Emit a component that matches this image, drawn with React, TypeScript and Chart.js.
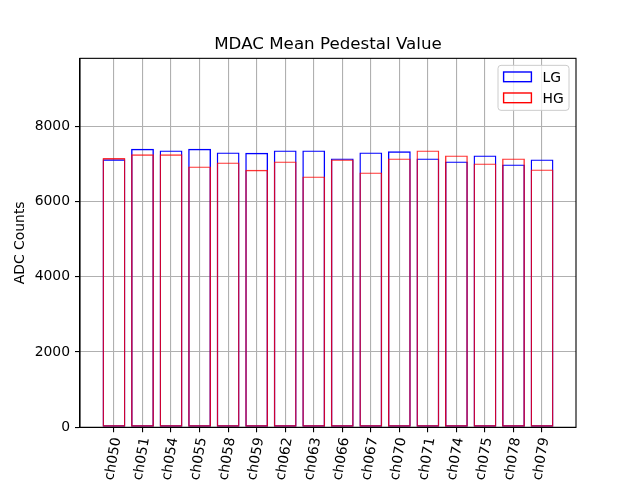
import React, { useEffect, useRef } from 'react';
import { Chart, registerables } from 'chart.js';

Chart.register(...registerables);

const categories = ['ch050', 'ch051', 'ch054', 'ch055', 'ch058', 'ch059', 'ch062', 'ch063', 'ch066', 'ch067', 'ch070', 'ch071', 'ch074', 'ch075', 'ch078', 'ch079'];
const lgValues = [7120, 7398, 7355, 7398, 7300, 7290, 7355, 7355, 7142, 7300, 7330, 7142, 7062, 7222, 6982, 7115];
const hgValues = [7150, 7250, 7250, 6930, 7036, 6840, 7062, 6664, 7115, 6770, 7142, 7355, 7222, 7009, 7142, 6850];
const yTickValues = [0, 2000, 4000, 6000, 8000];
const seriesLabels = ['LG', 'HG'];
const titleText = 'MDAC Mean Pedestal Value';
const yAxisTitle = 'ADC Counts';

const FONT = "'DejaVu Sans', sans-serif";

export default function App() {
  const ref = useRef<HTMLCanvasElement>(null);

  useEffect(() => {
    const canvas = ref.current;
    if (!canvas) return;

    const framePlugin = {
      id: 'frameAndLegend',
      afterDraw(chart: any) {
        const { ctx, chartArea: a } = chart;
        ctx.save();
        // spines
        ctx.strokeStyle = '#000';
        ctx.lineWidth = 1.1;
        ctx.strokeRect(a.left, a.top, a.right - a.left, a.bottom - a.top);

        // legend box
        const bw = 71;
        const bh = 45;
        const bx = a.right - 7 - bw;
        const by = a.top + 7;
        const r = 3;
        ctx.beginPath();
        ctx.moveTo(bx + r, by);
        ctx.lineTo(bx + bw - r, by);
        ctx.arcTo(bx + bw, by, bx + bw, by + r, r);
        ctx.lineTo(bx + bw, by + bh - r);
        ctx.arcTo(bx + bw, by + bh, bx + bw - r, by + bh, r);
        ctx.lineTo(bx + r, by + bh);
        ctx.arcTo(bx, by + bh, bx, by + bh - r, r);
        ctx.lineTo(bx, by + r);
        ctx.arcTo(bx, by, bx + r, by, r);
        ctx.closePath();
        ctx.fillStyle = 'rgba(255,255,255,0.8)';
        ctx.fill();
        ctx.strokeStyle = '#cccccc';
        ctx.lineWidth = 1;
        ctx.stroke();

        const colors = ['#0000ff', '#ff0000'];
        const rowCenters = [by + 11.5, by + 32.5];
        ctx.font = `13.9px ${FONT}`;
        ctx.textBaseline = 'alphabetic';
        ctx.textAlign = 'left';
        seriesLabels.forEach((lab, i) => {
          ctx.strokeStyle = colors[i];
          ctx.lineWidth = 1.4;
          ctx.strokeRect(bx + 5.6, rowCenters[i] - 4.85, 27.8, 9.7);
          ctx.fillStyle = '#000';
          ctx.fillText(lab, bx + 44.5, rowCenters[i] + 5);
        });
        ctx.restore();
      },
    };

    const chart = new Chart(canvas, {
      type: 'bar',
      data: {
        datasets: [
          {
            label: seriesLabels[0],
            data: lgValues.map((v, i) => ({ x: i, y: v })),
            borderColor: '#0000ff',
            backgroundColor: 'rgba(0,0,0,0)',
            borderWidth: 1.4,
            borderSkipped: false,
            grouped: false,
            order: 1,
            barPercentage: 0.8,
            categoryPercentage: 1,
          } as any,
          {
            label: seriesLabels[1],
            data: hgValues.map((v, i) => ({ x: i, y: v })),
            borderColor: 'rgba(255,0,0,0.8)',
            backgroundColor: 'rgba(0,0,0,0)',
            borderWidth: 1.4,
            borderSkipped: false,
            grouped: false,
            order: 0,
            barPercentage: 0.8,
            categoryPercentage: 1,
          } as any,
        ],
      },
      options: {
        responsive: false,
        animation: false,
        devicePixelRatio: 1,
        layout: { padding: { left: 0, right: 64, top: 0, bottom: 0 } },
        plugins: {
          legend: { display: false },
          tooltip: { enabled: false },
          title: {
            display: true,
            fullSize: false,
            text: titleText,
            color: '#000',
            font: { family: FONT, size: 16.7, weight: 'normal' },
            padding: { top: 35, bottom: 3.3 },
          },
        },
        scales: {
          x: {
            type: 'linear',
            offset: false,
            min: -1.19,
            max: 16.19,
            afterBuildTicks: (scale: any) => {
              scale.ticks = categories.map((_, i) => ({ value: i }));
            },
            afterFit: (scale: any) => {
              scale.height = 52.7;
            },
            grid: {
              offset: false,
              color: '#b0b0b0',
              lineWidth: 1.1,
              tickColor: '#000',
              tickLength: 5,
              drawTicks: true,
            },
            border: { display: true, color: '#000', width: 1.1 },
            ticks: {
              autoSkip: false,
              minRotation: 80,
              maxRotation: 80,
              padding: 4,
              labelOffset: 3,
              color: '#000',
              font: { family: FONT, size: 13.9 },
              callback: (value: any) => categories[Math.round(Number(value))] ?? '',
            },
          },
          y: {
            type: 'linear',
            min: 0,
            max: 9800,
            afterBuildTicks: (scale: any) => {
              scale.ticks = yTickValues.map((v) => ({ value: v }));
            },
            afterFit: (scale: any) => {
              scale.width = 80;
            },
            grid: {
              color: '#b0b0b0',
              lineWidth: 1.1,
              tickColor: '#000',
              tickLength: 5,
              drawTicks: true,
            },
            border: { display: true, color: '#000', width: 1.1 },
            ticks: {
              padding: 5,
              color: '#000',
              font: { family: FONT, size: 13.9 },
              callback: (value: any) => String(value),
            },
            title: {
              display: true,
              text: yAxisTitle,
              color: '#000',
              font: { family: FONT, size: 13.9 },
              padding: { top: 11.7, bottom: 0 },
            },
          },
        },
      },
      plugins: [framePlugin],
    } as any);

    return () => chart.destroy();
  }, []);

  return (
    <div style={{ position: 'absolute', left: 0, top: 0, width: 640, height: 480 }}>
      <canvas ref={ref} width={640} height={480} style={{ display: 'block', width: 640, height: 480 }} />
    </div>
  );
}
